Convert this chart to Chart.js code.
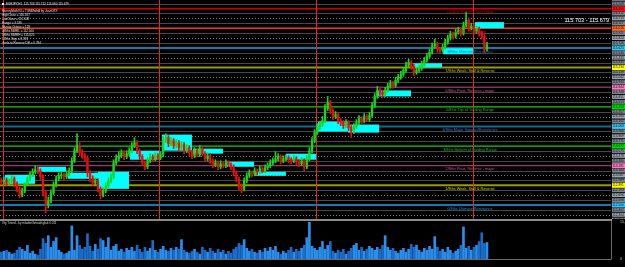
<!DOCTYPE html>
<html>
<head>
<meta charset="utf-8">
<script src="https://cdn.jsdelivr.net/npm/chart.js@4.4.1/dist/chart.umd.min.js"></script>
<style>
  html, body { margin: 0; padding: 0; background: #000; }
  #wrap { position: relative; width: 625px; height: 267px; background: #000; overflow: hidden; }
  #main { position: absolute; left: 0; top: 0; }
  #vol { position: absolute; left: 0; top: 219px; }
</style>
</head>
<body>
<div id="wrap">
  <canvas id="main" width="625" height="219"></canvas>
  <canvas id="vol" width="625" height="48"></canvas>
</div>
<script>
Chart.defaults.font.family = "'Liberation Sans', Arial, sans-serif";

const timeLabels = ['12 Aug 2016', '15 Aug 13:00', '16 Aug 05:00', '16 Aug 21:00', '17 Aug 13:00', '18 Aug 05:00',
  '18 Aug 21:00', '19 Aug 13:00', '22 Aug 05:00', '22 Aug 21:00', '23 Aug 13:00', '24 Aug 05:00',
  '24 Aug 21:00', '25 Aug 13:00', '26 Aug 05:00', '26 Aug 21:00', '29 Aug 13:00', '30 Aug 05:00',
  '30 Aug 21:00', '31 Aug 13:00', '1 Sep 05:00', '1 Sep 21:00', '2 Sep 13:00', '5 Sep 05:00'];

const firstOpen = 112.98;
const closes = [
  112.96, 113.00, 112.94, 112.98, 113.02, 112.92, 112.82, 112.70, 112.78, 112.90,
  113.02, 113.10, 113.16, 113.20, 113.18, 113.06, 112.74, 112.50, 112.58, 112.74,
  112.90, 113.02, 113.08, 113.10, 113.06, 113.12, 113.18, 113.38, 113.58, 113.68,
  113.54, 113.48, 113.44, 113.14, 113.02, 112.94, 112.98, 112.82, 112.70, 112.78,
  112.88, 112.98, 113.06, 113.34, 113.42, 113.48, 113.54, 113.46, 113.52, 113.58,
  113.68, 113.74, 113.58, 113.46, 113.34, 113.26, 113.38, 113.46, 113.42, 113.48,
  113.44, 113.50, 113.78, 113.84, 113.72, 113.78, 113.68, 113.74, 113.64, 113.70,
  113.58, 113.64, 113.54, 113.48, 113.58, 113.50, 113.62, 113.52, 113.42, 113.48,
  113.38, 113.30, 113.34, 113.26, 113.32, 113.28, 113.34, 113.30, 113.26, 113.14,
  113.02, 112.88, 112.82, 112.98, 113.08, 113.14, 113.12, 113.18, 113.16, 113.22,
  113.18, 113.24, 113.28, 113.34, 113.38, 113.42, 113.46, 113.38, 113.42, 113.44,
  113.40, 113.38, 113.42, 113.36, 113.32, 113.38, 113.26, 113.42, 113.58, 113.78,
  113.94, 114.06, 114.10, 114.18, 114.42, 114.54, 114.38, 114.26, 114.30, 114.18,
  114.14, 114.08, 114.14, 114.04, 113.98, 114.06, 114.14, 114.22, 114.18, 114.26,
  114.20, 114.28, 114.48, 114.66, 114.78, 114.74, 114.70, 114.78, 114.86, 114.92,
  114.88, 114.98, 115.04, 115.10, 115.18, 115.28, 115.34, 115.26, 115.14, 115.18,
  115.22, 115.30, 115.38, 115.46, 115.54, 115.66, 115.70, 115.60, 115.58, 115.64,
  115.74, 115.82, 115.90, 115.86, 115.94, 115.98, 115.92, 116.08, 116.18, 116.02,
  116.06, 115.96, 116.00, 115.92, 115.86, 115.60, 115.68];
const highs = [
  113.04, 113.06, 113.04, 113.02, 113.08, 113.06, 112.96, 112.86, 112.84, 112.94,
  113.06, 113.16, 113.22, 113.28, 113.26, 113.22, 113.10, 112.78, 112.66, 112.80,
  112.96, 113.08, 113.14, 113.16, 113.14, 113.18, 113.24, 113.44, 113.64, 113.92,
  113.74, 113.60, 113.52, 113.48, 113.18, 113.08, 113.04, 113.02, 112.86, 112.84,
  112.94, 113.04, 113.12, 113.40, 113.50, 113.56, 113.60, 113.58, 113.58, 113.64,
  113.74, 113.84, 113.78, 113.62, 113.50, 113.38, 113.44, 113.52, 113.50, 113.54,
  113.52, 113.56, 113.86, 113.92, 113.88, 113.84, 113.82, 113.80, 113.78, 113.76,
  113.74, 113.70, 113.68, 113.58, 113.64, 113.62, 113.68, 113.66, 113.56, 113.54,
  113.52, 113.42, 113.40, 113.38, 113.38, 113.36, 113.40, 113.38, 113.34, 113.30,
  113.18, 113.06, 112.92, 113.04, 113.14, 113.20, 113.18, 113.24, 113.22, 113.28,
  113.26, 113.30, 113.34, 113.40, 113.44, 113.56, 113.52, 113.50, 113.48, 113.50,
  113.48, 113.44, 113.48, 113.46, 113.40, 113.44, 113.42, 113.48, 113.64, 113.84,
  114.00, 114.12, 114.16, 114.26, 114.50, 114.66, 114.58, 114.42, 114.36, 114.34,
  114.22, 114.18, 114.20, 114.18, 114.08, 114.12, 114.20, 114.28, 114.26, 114.32,
  114.30, 114.34, 114.54, 114.72, 114.86, 114.84, 114.78, 114.84, 114.92, 114.98,
  114.96, 115.04, 115.10, 115.16, 115.24, 115.34, 115.40, 115.38, 115.30, 115.24,
  115.28, 115.36, 115.44, 115.52, 115.60, 115.72, 115.80, 115.74, 115.64, 115.70,
  115.80, 115.88, 115.96, 115.94, 116.00, 116.04, 116.02, 116.14, 116.34, 116.22,
  116.12, 116.10, 116.06, 116.04, 115.96, 115.90, 115.74];
const lows = [
  112.90, 112.92, 112.88, 112.90, 112.94, 112.86, 112.76, 112.64, 112.66, 112.74,
  112.88, 112.98, 113.06, 113.12, 113.12, 113.00, 112.68, 112.34, 112.44, 112.54,
  112.70, 112.86, 112.98, 113.02, 113.00, 113.02, 113.08, 113.14, 113.34, 113.54,
  113.48, 113.42, 113.38, 113.06, 112.96, 112.88, 112.90, 112.76, 112.62, 112.66,
  112.74, 112.84, 112.94, 113.02, 113.30, 113.38, 113.44, 113.40, 113.42, 113.48,
  113.54, 113.64, 113.52, 113.40, 113.28, 113.20, 113.22, 113.34, 113.36, 113.38,
  113.40, 113.40, 113.46, 113.74, 113.66, 113.68, 113.62, 113.64, 113.58, 113.60,
  113.52, 113.54, 113.48, 113.42, 113.44, 113.46, 113.46, 113.48, 113.36, 113.38,
  113.32, 113.24, 113.26, 113.20, 113.22, 113.24, 113.24, 113.26, 113.20, 113.08,
  112.96, 112.80, 112.74, 112.78, 112.94, 113.04, 113.06, 113.08, 113.10, 113.12,
  113.14, 113.14, 113.20, 113.24, 113.30, 113.34, 113.38, 113.32, 113.34, 113.38,
  113.34, 113.32, 113.34, 113.30, 113.26, 113.28, 113.18, 113.22, 113.38, 113.54,
  113.74, 113.90, 114.00, 114.06, 114.14, 114.38, 114.32, 114.20, 114.22, 114.12,
  114.08, 114.02, 114.04, 113.98, 113.84, 113.92, 114.02, 114.10, 114.12, 114.14,
  114.16, 114.16, 114.24, 114.44, 114.62, 114.68, 114.64, 114.66, 114.74, 114.82,
  114.82, 114.84, 114.94, 115.00, 115.06, 115.14, 115.24, 115.20, 115.08, 115.10,
  115.14, 115.18, 115.26, 115.34, 115.42, 115.50, 115.62, 115.54, 115.52, 115.54,
  115.60, 115.70, 115.78, 115.80, 115.82, 115.90, 115.86, 115.88, 116.04, 115.96,
  115.98, 115.90, 115.92, 115.86, 115.80, 115.54, 115.56];
const volumes = [
  2840, 3240, 3650, 2840, 2030, 2430, 3650, 4860, 4050, 3240,
  5670, 2430, 3240, 2030, 1620, 4050, 8510, 6480, 9720, 4860,
  7290, 8910, 3650, 2840, 2030, 2430, 3240, 13770, 3650, 9720,
  5670, 4050, 4860, 10530, 5270, 3240, 6080, 4050, 8510, 7700,
  4860, 8910, 3650, 5270, 6080, 3240, 4050, 2840, 4460, 3650,
  4860, 3240, 5670, 4050, 2840, 4860, 3240, 4460, 7700, 3650,
  2840, 4050, 5270, 3650, 3240, 4460, 3650, 4860, 4050, 8100,
  3650, 2840, 2430, 3240, 4050, 2840, 2030, 4860, 3650, 2840,
  4460, 3240, 2430, 4050, 2840, 3650, 2030, 3240, 2430, 4050,
  4860, 6480, 5670, 8100, 4460, 3240, 4050, 2840, 2430, 3650,
  2840, 4460, 3240, 4860, 3650, 5270, 2840, 2030, 3240, 2430,
  3650, 4860, 2840, 4050, 3240, 4460, 5670, 8910, 15396, 5270,
  4460, 3650, 4860, 7290, 4050, 5670, 7290, 3240, 2430, 3650,
  2840, 4050, 2030, 3240, 4460, 5670, 6480, 3650, 4860, 3240,
  4050, 5270, 4460, 3650, 4860, 4050, 5670, 9720, 4860, 3650,
  4460, 3240, 2430, 3650, 4460, 2840, 4050, 6080, 4860, 5670,
  3650, 2840, 4460, 3650, 5270, 4050, 9320, 4860, 3240, 4050,
  2840, 4860, 3650, 2430, 3240, 4050, 5670, 13370, 4460, 5270,
  3650, 4860, 5670, 7290, 10940, 6480, 6890];

// Murrey math levels, 0/8 .. +2/8
const mmPrices = [112.500, 112.891, 113.281, 113.672, 114.063, 114.453, 114.844, 115.234, 115.625, 116.016, 116.406];
const mmNames = ['0/8ths Ultimate Resistance', '1/8ths Weak, Stall & Reverse', '2/8ths Pivot, Reverse - major',
  '3/8ths Bottom of Trading Range', '4/8ths Major Support/Resistance', '5/8ths Top of Trading Range',
  '6/8ths Pivot, Reverse - major', '7/8ths Weak, Stall & Reverse', '8/8ths Ultimate Resistance',
  '+1/8ths Overshoot', '+2/8ths Extreme Overshoot'];
const mmLineColors = ['#12a8ec', '#9c9a00', '#c8448c', '#10d010', '#0b6c92', '#10d010', '#c8448c', '#9c9a00', '#12a8ec', '#f2400e', '#d00000'];
const mmTextColors = ['#2a86c8', '#d8d800', '#d0508e', '#1eb01e', '#2a7cc8', '#1eb81e', '#d0508e', '#c8c800', '#1c6aa8', '#b83020', '#c80000'];
const mmAxisColors = ['#38c4f4', '#ffff00', '#ff78c0', '#00e000', '#38c4f4', '#00e000', '#ff78c0', '#ffff00', '#38c4f4', '#ff6a20', '#ff1010'];
const mmWidths = [1.5, 2, 1, 1.2, 2, 1.2, 1, 2, 1.5, 1.5, 1.5];

// cyan zones: slot range and price range
const boxFrom = [1.4, 13.7, 25.5, 37.0, 49.3, 61.5, 73.4, 86.4, 97.2, 109.0, 121.3, 132.8, 143.9, 157.7, 169.2, 181.4];
const boxTo = [12.9, 24.8, 37.8, 48.9, 60.8, 73.0, 84.9, 96.8, 109.0, 120.5, 132.8, 144.7, 156.9, 168.8, 180.7, 192.5];
const boxHigh = [113.10, 113.26, 113.14, 113.16, 113.58, 113.90, 113.62, 113.36, 113.16, 113.52, 114.16, 114.10, 114.78, 115.32, 115.62, 116.14];
const boxLow = [112.92, 113.16, 113.02, 112.82, 113.40, 113.58, 113.52, 113.26, 113.08, 113.40, 113.96, 113.94, 114.66, 115.24, 115.50, 116.02];

const weekStarts = [1, 61, 121, 181];

const titleLine = 'EURJPY,H1  115.703 115.712 115.660 115.679';
const infoLines = ['MurreyMathV4 = TSMMathA by JuanGTX', 'HighClose = 116.187', 'LowClose = 112.648',
  'Range = 3.539', 'Murray Octave = 128', '0/8ths MMRL = 112.500', '8/8ths MMRH = 115.625',
  '1/8ths Step = 0.391', 'Gerla to Reverse Diff = 0.784'];
const spreadText = '115.703 - 115.679';
const volTitle = 'Vtg Tinted - by mladen/fxtradinglab 0.011';

const SLOTS = 234; // data plus chart shift on the right
const slots = Array.from({ length: SLOTS }, (_, i) => i);
const opens = closes.map((c, i) => i === 0 ? firstOpen : closes[i - 1]);
const candleColors = closes.map((c, i) => c >= opens[i] ? '#1ed21e' : '#e41010');
const volColors = closes.map((c, i) => c >= opens[i] ? '#2a8fec' : '#1a6cc6');
const volMax = Math.max(...volumes);

const mmStep = mmPrices[1] - mmPrices[0];
const subLevels = [];
for (let i = -1; i < mmPrices.length; i++) {
  [0.25, 0.5, 0.75].forEach(f => subLevels.push({ p: mmPrices[0] + (i + f) * mmStep, dotted: f === 0.5 }));
}

const overlay = {
  id: 'overlay',
  beforeDatasetsDraw(chart) {
    const { ctx, chartArea: a, scales: { x, y } } = chart;
    ctx.save();
    ctx.beginPath();
    ctx.rect(a.left, a.top, a.right - a.left, a.bottom - a.top);
    ctx.clip();
    ctx.lineWidth = 1;
    subLevels.forEach(s => {
      const py = Math.round(y.getPixelForValue(s.p)) + 0.5;
      ctx.strokeStyle = s.dotted ? '#7c7c7c' : '#484848';
      ctx.setLineDash(s.dotted ? [1, 2] : []);
      ctx.beginPath(); ctx.moveTo(a.left, py); ctx.lineTo(a.right, py); ctx.stroke();
    });
    ctx.setLineDash([]);
    mmPrices.forEach((p, i) => {
      const py = y.getPixelForValue(p);
      ctx.strokeStyle = mmLineColors[i];
      ctx.lineWidth = mmWidths[i];
      ctx.beginPath(); ctx.moveTo(a.left, py); ctx.lineTo(a.right, py); ctx.stroke();
    });
    ctx.fillStyle = '#00ffff';
    boxFrom.forEach((b, i) => {
      const x1 = x.getPixelForValue(b), x2 = x.getPixelForValue(boxTo[i]);
      const y1 = y.getPixelForValue(boxHigh[i]), y2 = y.getPixelForValue(boxLow[i]);
      ctx.fillRect(x1, y1, x2 - x1, y2 - y1);
    });
    ctx.strokeStyle = '#e2300a';
    ctx.lineWidth = 1;
    weekStarts.forEach(s => {
      const px = Math.round(x.getPixelForValue(s - 0.5)) + 0.5;
      ctx.beginPath(); ctx.moveTo(px, a.top); ctx.lineTo(px, a.bottom); ctx.stroke();
    });
    ctx.restore();
  },
  afterDatasetsDraw(chart) {
    const { ctx, chartArea: a, scales: { x, y } } = chart;
    ctx.save();
    ctx.font = "3.8px 'Liberation Sans'";
    ctx.textAlign = 'center';
    ctx.textBaseline = 'middle';
    const lx = x.getPixelForValue(179.5);
    mmPrices.forEach((p, i) => {
      ctx.fillStyle = mmTextColors[i];
      ctx.fillText(mmNames[i], lx, y.getPixelForValue(p) + 3.6);
    });
    // top-left info block
    ctx.textAlign = 'left';
    ctx.fillStyle = '#ffffff';
    ctx.fillRect(2, 3, 2, 2);
    ctx.font = "3px 'Liberation Sans'";
    ctx.fillStyle = '#e0e0e0';
    ctx.fillText(titleLine, 6, 4.2);
    infoLines.forEach((t, i) => ctx.fillText(t, 2, 11.6 + i * 4));
    ctx.font = "5.6px 'Liberation Sans'";
    ctx.textAlign = 'right';
    ctx.fillStyle = '#ffffff';
    ctx.fillText(spreadText, a.right - 2, 20.5);
    // price axis labels for every drawn level
    ctx.textAlign = 'left';
    ctx.font = "3.2px 'Liberation Sans'";
    subLevels.forEach(s => {
      const py = y.getPixelForValue(s.p);
      ctx.fillStyle = s.dotted ? '#9aa2ac' : '#7c8590';
      ctx.fillRect(a.right + 1, py - 2, 14, 4);
      ctx.fillStyle = '#101010';
      ctx.fillText(s.p.toFixed(3), a.right + 1.5, py);
    });
    mmPrices.forEach((p, i) => {
      const py = y.getPixelForValue(p);
      ctx.fillStyle = mmAxisColors[i];
      ctx.fillRect(a.right + 1, py - 2.5, 14, 5);
      ctx.fillStyle = '#101010';
      ctx.fillText(p.toFixed(3), a.right + 1.5, py);
    });
    ctx.restore();
  }
};

new Chart(document.getElementById('main'), {
  type: 'bar',
  data: {
    labels: slots,
    datasets: [
      { data: closes.map((c, i) => [opens[i], c]), backgroundColor: candleColors, barThickness: 1.6, minBarLength: 1, grouped: false, order: 0 },
      { data: highs.map((h, i) => [lows[i], h]), backgroundColor: candleColors, barThickness: 1, grouped: false, order: 1 }
    ]
  },
  options: {
    responsive: false,
    animation: false,
    devicePixelRatio: 1,
    layout: { padding: 0 },
    plugins: { legend: { display: false }, tooltip: { enabled: false } },
    scales: {
      x: { display: false, offset: true },
      y: {
        position: 'right', min: 112.22, max: 116.58,
        grid: { display: false }, border: { display: false },
        ticks: { display: false },
        afterFit(s) { s.width = 14; }
      }
    }
  },
  plugins: [overlay]
});

const volFrame = {
  id: 'volFrame',
  afterDraw(chart) {
    const { ctx, chartArea: a } = chart;
    ctx.save();
    ctx.fillStyle = '#8a8a8a';
    ctx.fillRect(0, 0, a.right + 1, 2);
    ctx.strokeStyle = '#6a6a6a';
    ctx.lineWidth = 1;
    ctx.beginPath();
    ctx.moveTo(0, a.bottom + 0.5); ctx.lineTo(a.right + 0.5, a.bottom + 0.5); ctx.lineTo(a.right + 0.5, 2);
    ctx.stroke();
    ctx.font = "3px 'Liberation Sans'";
    ctx.fillStyle = '#d0d0d0';
    ctx.textBaseline = 'middle';
    ctx.fillText(volTitle, 2, 4.5);
    ctx.restore();
  }
};

new Chart(document.getElementById('vol'), {
  type: 'bar',
  data: {
    labels: slots,
    datasets: [{ data: volumes, backgroundColor: volColors, barThickness: 2, grouped: false }]
  },
  options: {
    responsive: false,
    animation: false,
    devicePixelRatio: 1,
    layout: { padding: { top: 2 } },
    plugins: { legend: { display: false }, tooltip: { enabled: false } },
    scales: {
      x: {
        offset: true,
        grid: { display: false }, border: { display: false },
        ticks: {
          autoSkip: false, maxRotation: 0, minRotation: 0, align: 'start', padding: 1,
          color: '#c8c8c8', font: { size: 2.8 },
          callback: (v, i) => (i % 8 === 0 && timeLabels[i / 8]) ? timeLabels[i / 8] : ''
        },
        afterFit(s) { s.height = 8; }
      },
      y: {
        position: 'right', min: 0, max: volMax,
        grid: { display: false }, border: { display: false },
        ticks: { stepSize: volMax, color: '#c8c8c8', font: { size: 3.4 }, padding: 1 },
        afterFit(s) { s.width = 14; }
      }
    }
  },
  plugins: [volFrame]
});
</script>
</body>
</html>
